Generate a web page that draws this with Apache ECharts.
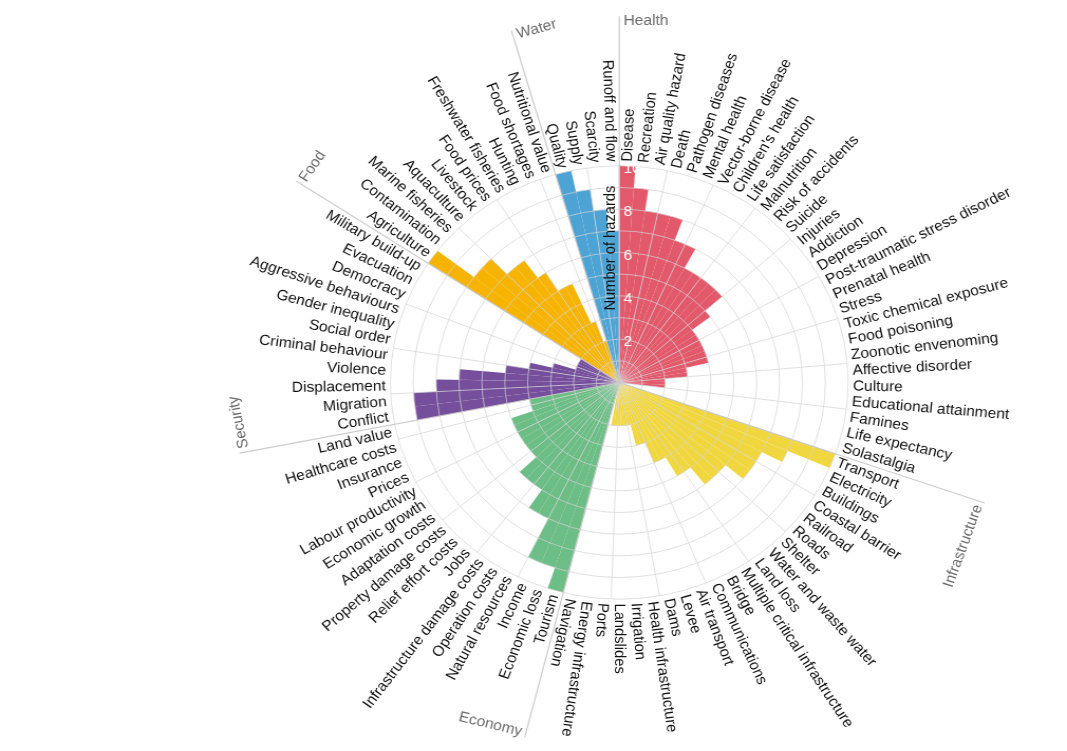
<!DOCTYPE html>
<html>
<head>
<meta charset="utf-8">
<script src="https://cdn.jsdelivr.net/npm/echarts@6/dist/echarts.min.js"></script>
<style>
html,body{margin:0;padding:0;background:#fff;overflow:hidden;width:1067px;height:751px}
#chart{width:1010px;height:751px;transform:scaleX(1.05644);transform-origin:0 0}
</style>
</head>
<body>
<div id="chart"></div>
<script>
// ---- data ----
const healthCats = ["Disease","Recreation","Air quality hazard","Death","Pathogen diseases","Mental health","Vector-borne disease","Children's health","Life satisfaction","Malnutrition","Risk of accidents","Suicide","Injuries","Addiction","Depression","Post-traumatic stress disorder","Prenatal health","Stress","Toxic chemical exposure","Food poisoning","Zoonotic envenoming","Affective disorder","Culture","Educational attainment","Famines","Life expectancy","Solastalgia"];
const healthVals = [10,9,8,8,8,7,7,6,6,6,6,6,5,4,4,4,4,4,4,3,3,2,2,2,0,0,0];

const infraCats = ["Transport","Electricity","Buildings","Coastal barrier","Railroad","Roads","Shelter","Water and waste water","Land loss","Multiple critical infrastructure","Bridge","Communications","Air transport","Levee","Dams","Health infrastructure","Irrigation","Landslides","Ports","Energy infrastructure","Navigation"];
const infraVals = [10,8,7,7,7,6,6,6,5,5,4,4,3,3,2,2,2,2,2,2,0];

const econCats = ["Tourism","Economic loss","Income","Natural resources","Operation costs","Infrastructure damage costs","Jobs","Relief effort costs","Property damage costs","Adaptation costs","Economic growth","Labour productivity","Prices","Insurance","Healthcare costs","Land value"];
const econVals = [10,9,9,7,7,6,6,6,5,5,5,5,5,5,4,4];

const secCats = ["Conflict","Migration","Displacement","Violence","Criminal behaviour","Social order","Gender inequality","Aggressive behaviours","Democracy","Evacuation","Military build-up"];
const secVals = [9,9,8,7,5,4,3,2,2,2,2];

const foodCats = ["Agriculture","Contamination","Marine fisheries","Aquaculture","Livestock","Food prices","Freshwater fisheries","Hunting","Food shortages","Nutritional value"];
const foodVals = [10,8,8,7,7,6,5,5,3,2];

const waterCats = ["Quality","Supply","Scarcity","Runoff and flow"];
const waterVals = [10,9,8,7];

const groupNames = ["Health","Infrastructure","Economy","Security","Food","Water"];
const tickValues = [2,4,6,8,10];
const radiusTitle = "Number of hazards";

// ---- styling ----
const groupColors = ["#E2596B","#F1D73F","#6DBD86","#754E9C","#F6B401","#4DA4D4"];
const groupFlip = [false,true,true,false,false,false];
const FONT = '14.7px "Liberation Sans", Arial, Helvetica, sans-serif';
const GRID = 'rgba(212,212,212,0.7)';

const groupCats = [healthCats, infraCats, econCats, secCats, foodCats, waterCats];
const groupVals = [healthVals, infraVals, econVals, secVals, foodVals, waterVals];
const categories = [].concat(...groupCats);
const groupStarts = [];
let off = 0;
groupCats.forEach(c => { groupStarts.push(off); off += c.length; });
const flipFrom = groupStarts[2];

const barSeries = groupNames.map((name, g) => {
  const data = categories.map(() => '-');
  groupVals[g].forEach((v, i) => { data[groupStarts[g] + i] = v; });
  return {
    type: 'bar', name, coordinateSystem: 'polar', data,
    barGap: '-100%', barCategoryGap: '0%',
    itemStyle: { color: groupColors[g] },
    z: 2, silent: true
  };
});

function angOf(p, cs) { // clockwise from up, degrees 0..360
  let t = Math.atan2(p[0] - cs.cx, -(p[1] - cs.cy)) * 180 / Math.PI;
  return (t + 360) % 360;
}

const labelSeries = {
  type: 'custom', coordinateSystem: 'polar', z: 20, silent: true,
  data: categories.map((c, i) => [0, i]),
  renderItem(params, api) {
    const i = api.value(1);
    const cs = params.coordSys;
    const p = api.coord([10.2, i]);
    const th = angOf(p, cs);
    const flip = i >= flipFrom;
    const rot = (flip ? (270 - th) : (90 - th)) * Math.PI / 180;
    return {
      type: 'text', x: p[0], y: p[1], rotation: rot,
      style: { text: categories[i], x: 0, y: 0, fill: '#111', font: FONT,
               align: flip ? 'right' : 'left', verticalAlign: 'middle' }
    };
  }
};

const groupSeries = {
  type: 'custom', coordinateSystem: 'polar', z: 15, silent: true,
  data: groupStarts.map((s, g) => [0, s, g]),
  renderItem(params, api) {
    const s = api.value(1), g = api.value(2);
    const cs = params.coordSys;
    const p0 = api.coord([1, s]);
    const p1 = api.coord([1, s + 1]);
    const unit = Math.hypot(p0[0] - cs.cx, p0[1] - cs.cy);
    const a0 = angOf(p0, cs);
    let step = angOf(p1, cs) - a0; if (step < 0) step += 360;
    const th = a0 - step / 2;
    const tr = th * Math.PI / 180;
    const ux = Math.sin(tr), uy = -Math.cos(tr);   // outward
    const tx = Math.cos(tr), ty = Math.sin(tr);    // clockwise tangent
    const R = 16.9 * unit;
    const ex = cs.cx + ux * R, ey = cs.cy + uy * R;
    const flip = groupFlip[g];
    const lx = ex - ux * 5 + tx * 4, ly = ey - uy * 5 + ty * 4;
    const rotDeg = flip ? (180 - th) : (-th);
    return {
      type: 'group',
      children: [
        { type: 'line', shape: { x1: cs.cx, y1: cs.cy, x2: ex, y2: ey },
          style: { stroke: 'rgba(200,200,200,0.9)', lineWidth: 1.2 } },
        { type: 'text', x: lx, y: ly, rotation: rotDeg * Math.PI / 180,
          style: { text: groupNames[g], x: 0, y: 0, fill: '#6b6b6b', font: FONT,
                   align: flip ? 'right' : 'left', verticalAlign: 'middle' } }
      ]
    };
  }
};

const tickSeries = {
  type: 'custom', coordinateSystem: 'polar', z: 25, silent: true,
  data: tickValues.map(v => [v, 0]),
  renderItem(params, api) {
    const v = api.value(0);
    const cs = params.coordSys;
    const p = api.coord([v, 0]);
    const r = Math.hypot(p[0] - cs.cx, p[1] - cs.cy);
    return {
      type: 'text', x: cs.cx + 4, y: cs.cy - r + 3,
      style: { text: String(v), x: 0, y: 0, fill: '#ffffff', font: FONT,
               align: 'left', verticalAlign: 'middle' }
    };
  }
};

const titleSeries = {
  type: 'custom', coordinateSystem: 'polar', z: 25, silent: true,
  data: [[6.2, 0]],
  renderItem(params, api) {
    const cs = params.coordSys;
    const p = api.coord([api.value(0), 0]);
    const r = Math.hypot(p[0] - cs.cx, p[1] - cs.cy);
    return {
      type: 'text', x: cs.cx - 1, y: cs.cy - r, rotation: Math.PI / 2,
      style: { text: radiusTitle, x: 0, y: 0, fill: '#111', font: FONT,
               align: 'center', verticalAlign: 'bottom' }
    };
  }
};

const chart = echarts.init(document.getElementById('chart'));
chart.setOption({
  animation: false,
  backgroundColor: '#ffffff',
  polar: { center: [586.2, 382.5], radius: 216.7 },
  angleAxis: {
    type: 'category', data: categories, startAngle: 90, clockwise: true, boundaryGap: true,
    axisLine: { show: false }, axisTick: { show: false }, axisLabel: { show: false },
    splitLine: { show: true, lineStyle: { color: GRID, width: 1 } },
    z: 5
  },
  radiusAxis: {
    type: 'value', min: 0, max: 10, interval: 1,
    axisLine: { show: false }, axisTick: { show: false }, axisLabel: { show: false },
    splitLine: { show: true, lineStyle: { color: GRID, width: 1 } },
    z: 5
  },
  series: [...barSeries, groupSeries, labelSeries, tickSeries, titleSeries]
});
</script>
</body>
</html>
